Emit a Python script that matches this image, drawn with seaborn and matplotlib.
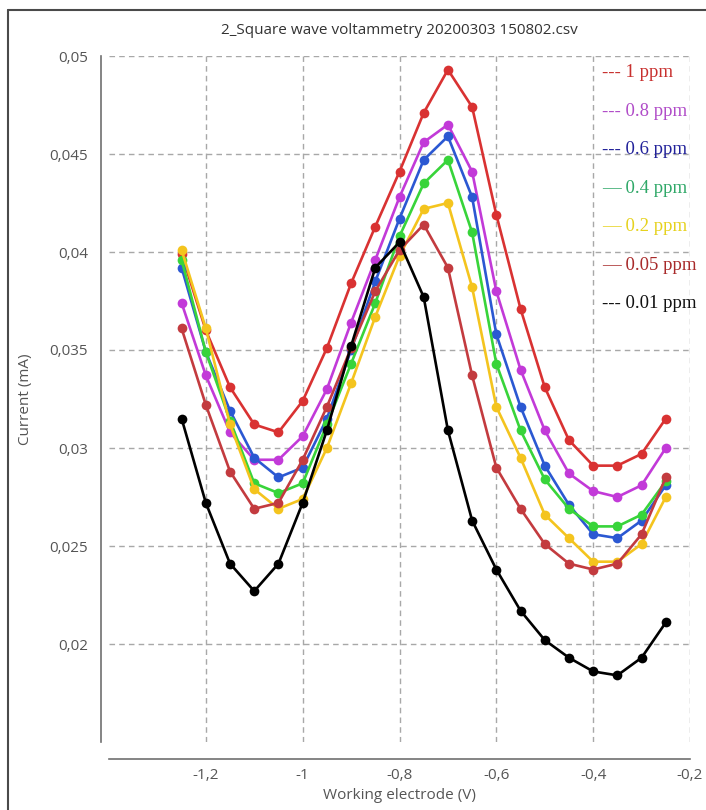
import numpy as np
import pandas as pd
import matplotlib
matplotlib.use("Agg")
import matplotlib.pyplot as plt
import seaborn as sns
from matplotlib.ticker import FuncFormatter, MultipleLocator, FixedLocator
from matplotlib.lines import Line2D

# potencial (V)
volts = [-1.25, -1.2, -1.15, -1.1, -1.05, -1.0, -0.95, -0.9, -0.85, -0.8, -0.75,
         -0.7, -0.65, -0.6, -0.55, -0.5, -0.45, -0.4, -0.35, -0.3, -0.25]

# proud (mA) pro jednotlive koncentrace
c_1 = [0.0399, 0.0360, 0.0331, 0.0312, 0.0308, 0.0324, 0.0351, 0.0384, 0.0413, 0.0441, 0.0471,
       0.0493, 0.0474, 0.0419, 0.0371, 0.0331, 0.0304, 0.0291, 0.0291, 0.0297, 0.0315]
c_08 = [0.0374, 0.0337, 0.0308, 0.0294, 0.0294, 0.0306, 0.0330, 0.0364, 0.0396, 0.0428, 0.0456,
        0.0465, 0.0441, 0.0380, 0.0340, 0.0309, 0.0287, 0.0278, 0.0275, 0.0281, 0.0300]
c_06 = [0.0392, 0.0349, 0.0319, 0.0295, 0.0285, 0.0290, 0.0315, 0.0350, 0.0385, 0.0417, 0.0447,
        0.0459, 0.0428, 0.0358, 0.0321, 0.0291, 0.0271, 0.0256, 0.0254, 0.0263, 0.0281]
c_04 = [0.0396, 0.0349, 0.0314, 0.0282, 0.0277, 0.0282, 0.0312, 0.0343, 0.0374, 0.0408, 0.0435,
        0.0447, 0.0410, 0.0343, 0.0309, 0.0284, 0.0269, 0.0260, 0.0260, 0.0266, 0.0283]
c_02 = [0.0401, 0.0361, 0.0312, 0.0279, 0.0269, 0.0274, 0.0300, 0.0333, 0.0367, 0.0398, 0.0422,
        0.0425, 0.0382, 0.0321, 0.0295, 0.0266, 0.0254, 0.0242, 0.0242, 0.0251, 0.0275]
c_005 = [0.0361, 0.0322, 0.0288, 0.0269, 0.0272, 0.0294, 0.0321, 0.0351, 0.0380, 0.0401, 0.0414,
         0.0392, 0.0337, 0.0290, 0.0269, 0.0251, 0.0241, 0.0238, 0.0241, 0.0256, 0.0285]
c_001 = [0.0315, 0.0272, 0.0241, 0.0227, 0.0241, 0.0272, 0.0309, 0.0352, 0.0392, 0.0405, 0.0377,
         0.0309, 0.0263, 0.0238, 0.0217, 0.0202, 0.0193, 0.0186, 0.0184, 0.0193, 0.0211]

labels = ["1 ppm", "0.8 ppm", "0.6 ppm", "0.4 ppm", "0.2 ppm", "0.05 ppm", "0.01 ppm"]
dashes = ["---", "---", "---", "\u2014", "\u2014", "\u2014", "---"]
series = [c_1, c_08, c_06, c_04, c_02, c_005, c_001]
line_colors = ["#d93232", "#c23ad8", "#2b58d2", "#38d43a", "#f4c41e", "#c33b3f", "#000000"]
text_colors = ["#c8302e", "#b04cc8", "#22229a", "#2fa868", "#e6d21e", "#a82a2a", "#111111"]

df = pd.concat([pd.DataFrame({"E": volts, "I": s, "conc": lab})
                for s, lab in zip(series, labels)], ignore_index=True)

sns.set_style("white")
plt.rcParams["font.family"] = ["Open Sans", "DejaVu Sans"]

fig = plt.figure(figsize=(7.06, 8.10), dpi=100)
ax = fig.add_axes([109 / 706, 1 - 742 / 810, (690 - 109) / 706, (742 - 56) / 810])

sns.lineplot(data=df, x="E", y="I", hue="conc", hue_order=labels,
             palette=dict(zip(labels, line_colors)), marker="o", markersize=7,
             markeredgewidth=0, linewidth=1.9, legend=False, ax=ax, clip_on=False)

ax.set_xlim(-1.4, -0.2)
ax.set_ylim(0.015, 0.05)
ax.xaxis.set_major_locator(FixedLocator([-1.2, -1.0, -0.8, -0.6, -0.4, -0.2]))
ax.xaxis.set_minor_locator(MultipleLocator(0.04))
ax.yaxis.set_major_locator(FixedLocator([0.02, 0.025, 0.03, 0.035, 0.04, 0.045, 0.05]))
ax.yaxis.set_minor_locator(MultipleLocator(0.001))
fmt = FuncFormatter(lambda v, p: f"{round(v, 4):g}".replace(".", ","))
ax.xaxis.set_major_formatter(fmt)
ax.yaxis.set_major_formatter(fmt)

ax.grid(True, which="major", color="#a8a8a8", linestyle=(0, (4, 3)), linewidth=1)
for sp in ["top", "right"]:
    ax.spines[sp].set_visible(False)
ax.spines["bottom"].set_position(("outward", 12))
ax.spines["left"].set_position(("outward", 6))
for sp in ["bottom", "left"]:
    ax.spines[sp].set_color("#707070")
    ax.spines[sp].set_linewidth(1.2)

ax.tick_params(axis="x", which="major", direction="in", length=9, width=1.1,
               colors="#707070", labelcolor="#555555", labelsize=11, pad=7)
ax.tick_params(axis="x", which="minor", direction="in", length=5, width=1, colors="#707070")
ax.tick_params(axis="y", which="major", direction="out", length=6, width=1.1,
               colors="#707070", labelcolor="#555555", labelsize=11, pad=3)
ax.tick_params(axis="y", which="minor", direction="out", length=3, width=0.8, colors="#909090")

ax.set_xlabel("Working electrode (V)", fontsize=11, color="#555555", labelpad=3)
ax.set_ylabel("Current (mA)", fontsize=11, color="#555555", labelpad=12)
ax.set_title("2_Square wave voltammetry 20200303 150802.csv", fontsize=11,
             color="#333333", pad=16)

# popisky koncentraci vpravo nahore
for i, (lab, d, tc) in enumerate(zip(labels, dashes, text_colors)):
    ax.text(0.849, 0.976 - i * 0.0562, f"{d} {lab}", transform=ax.transAxes,
            color=tc, fontsize=13.5, family=["Liberation Serif", "DejaVu Serif"],
            va="center", ha="left")

# ramecek okna
fig.add_artist(Line2D([8 / 706, 8 / 706], [0, 1 - 10 / 810], color="#4a4a4a", lw=1.5))
fig.add_artist(Line2D([8 / 706, 1], [1 - 10 / 810, 1 - 10 / 810], color="#4a4a4a", lw=1.5))

fig.savefig("out.png", dpi=100)
